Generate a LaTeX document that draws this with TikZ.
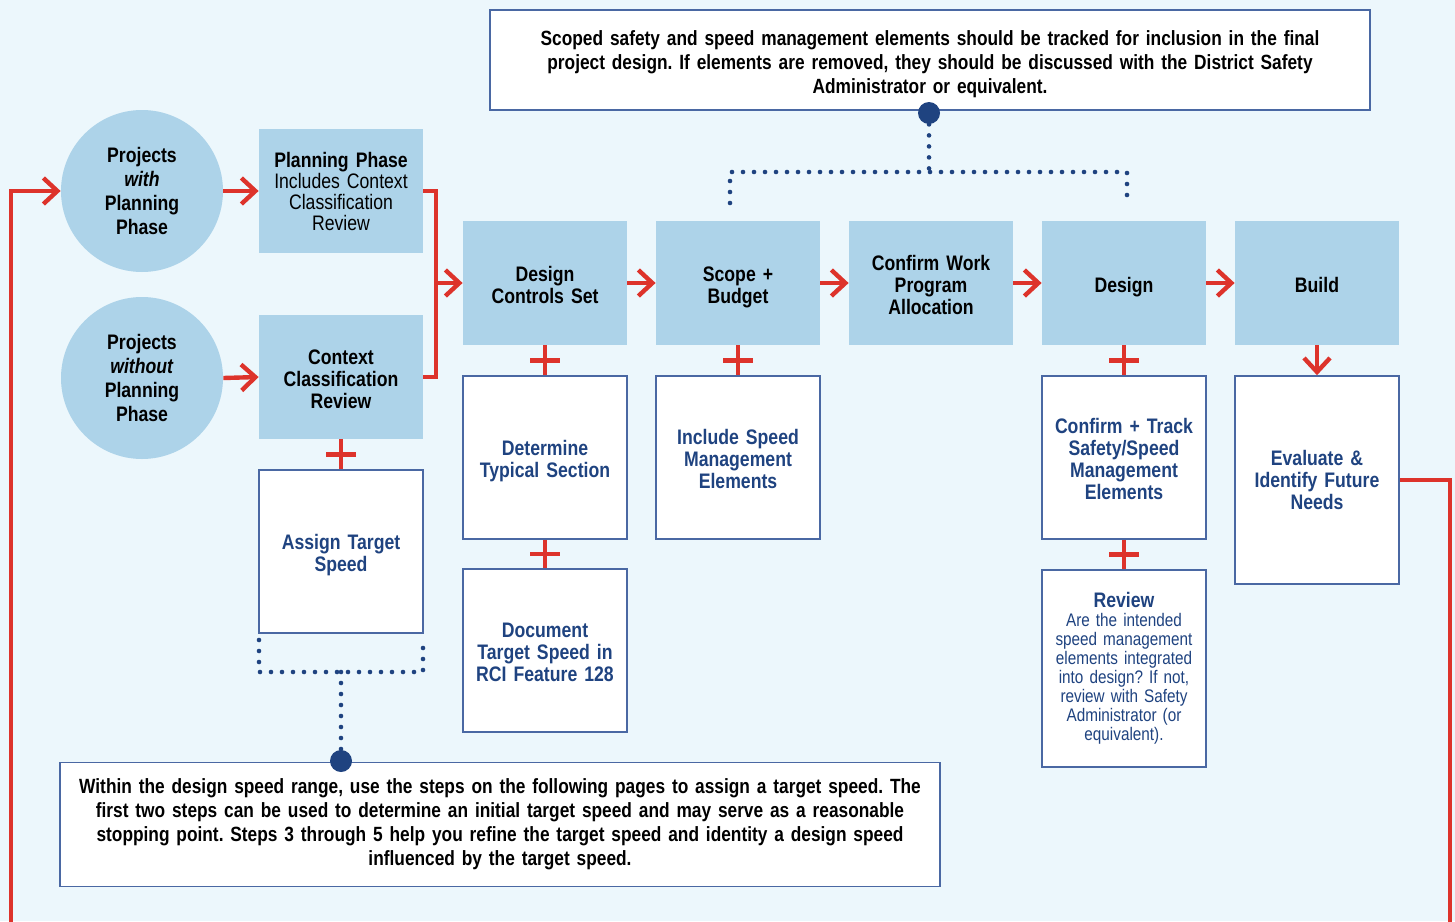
\documentclass[tikz,border=0pt]{standalone}
\usepackage{fontspec}
\setmainfont{Liberation Sans}[FakeStretch=0.84]
\usetikzlibrary{arrows.meta,calc}
\definecolor{bg}{HTML}{ECF7FC}
\definecolor{boxblue}{HTML}{ADD3E9}
\definecolor{redc}{HTML}{DD332B}
\definecolor{darkblue}{HTML}{1F4380}
\definecolor{borderblue}{HTML}{4A68A3}
\begin{document}
\frenchspacing
\begin{tikzpicture}[x=0.5pt,y=-0.5pt,
  vc/.style={execute at begin node={\rule{0pt}{11.5pt}}, execute at end node={\rule[-2.3pt]{0pt}{2.3pt}}},
  proc/.style={fill=boxblue, minimum width=82pt, minimum height=62pt, inner sep=0pt, align=center, text width=80pt, font=\bfseries\fontsize{10.5}{11}\selectfont},
  circ/.style={circle, fill=boxblue, minimum size=81pt, inner sep=0pt, align=center, font=\bfseries\fontsize{10.5}{12}\selectfont},
  wbox/.style={draw=borderblue, line width=0.8pt, fill=white, text=darkblue, inner sep=0pt, minimum width=82pt, text width=80pt, align=center, font=\bfseries\fontsize{10.5}{11}\selectfont},
  nbox/.style={draw=borderblue, line width=0.8pt, fill=white, text=black, inner sep=0pt, minimum width=440pt, text width=436pt, align=center, font=\bfseries\fontsize{10.3}{12}\selectfont},
  redline/.style={draw=redc, line width=2.2pt},
  redarrow/.style={redline, -{Straight Barb[length=7pt,width=13pt]}},
  dotline/.style={draw=darkblue, line width=2.3pt, line cap=round, dash pattern=on 0pt off 5.5pt},
  bigdot/.style={circle, fill=darkblue, minimum size=11pt, inner sep=0pt}
]
\fill[bg] (0,0) rectangle (1455,921);
\useasboundingbox (0,0) rectangle (1455,921);

% circles
\node[circ] (c1) at (142,191) {Projects\\\textit{with}\\Planning\\Phase};
\node[circ] (c2) at (142,378) {Projects\\\textit{without}\\Planning\\Phase};

% left boxes
\node[proc, font=\fontsize{10.5}{10.5}\selectfont] (ppb) at (341,191) {\textbf{Planning Phase}\\Includes Context\\Classification\\Review};
\node[proc, vc] (ccr) at (341,377) {Context\\Classification\\Review};
\node[wbox, vc, minimum height=81.5pt] (ats) at (341,551.5) {Assign Target\\Speed};

% main row
\node[proc, vc] (dcs) at (545,283) {Design\\Controls Set};
\node[proc, vc] (scope) at (738,283) {Scope +\\Budget};
\node[proc, vc] (cwp) at (931,283) {Confirm Work\\Program\\Allocation};
\node[proc, vc] (des) at (1124,283) {Design};
\node[proc, vc] (build) at (1317,283) {Build};

% white boxes
\node[wbox, vc, minimum height=81.5pt] (dts) at (545,457.5) {Determine\\Typical Section};
\node[wbox, vc, minimum height=81.5pt] (doc) at (545,650.5) {Document\\Target Speed in\\RCI Feature 128};
\node[wbox, vc, minimum height=81.5pt] (ism) at (738,457.5) {Include Speed\\Management\\Elements};
\node[wbox, vc, minimum height=81.5pt] (ctr) at (1124,457.5) {Confirm + Track\\Safety/Speed\\Management\\Elements};
\node[wbox, minimum height=98.5pt, font=\fontsize{9.1}{9.5}\selectfont] (rev) at (1124,668.5) {{\bfseries\fontsize{10.5}{11}\selectfont Review}\\Are the intended\\speed management\\elements integrated\\into design? If not,\\review with Safety\\Administrator (or\\equivalent).};
\node[wbox, minimum height=104pt] (evl) at (1317,480) {Evaluate \&\\Identify Future\\Needs};

% note boxes
\node[nbox, vc, minimum height=50pt] (top) at (930,60) {Scoped safety and speed management elements should be tracked for inclusion in the final\\project design. If elements are removed, they should be discussed with the District Safety\\Administrator or equivalent.};
\node[nbox, minimum height=62pt] (bot) at (500,824.5) {Within the design speed range, use the steps on the following pages to assign a target speed. The\\first two steps can be used to determine an initial target speed and may serve as a reasonable\\stopping point. Steps 3 through 5 help you refine the target speed and identity a design speed\\influenced by the target speed.};

% red arrows
\draw[redarrow] (c1.east) -- (ppb.west);
\draw[redarrow] (c2.east) -- (ccr.west);
\coordinate (brk) at (436,283);
\draw[redline] (ppb.east) -| (brk) |- (ccr.east);
\draw[redarrow] (brk) -- (dcs.west);
\draw[redarrow] (dcs.east) -- (scope.west);
\draw[redarrow] (scope.east) -- (cwp.west);
\draw[redarrow] (cwp.east) -- (des.west);
\draw[redarrow] (des.east) -- (build.west);
\draw[redarrow] (build.south) -- (evl.north);

% feedback loop
\coordinate (lr) at (1450,930);
\coordinate (ll) at (11,930);
\draw[redline] (evl.east) -| (lr);
\draw[redarrow] (ll) |- (c1.west);

% plus connectors
\foreach \a/\b in {ccr/ats, dcs/dts, dts/doc, scope/ism, des/ctr, ctr/rev}{
  \draw[redline] (\a.south) -- (\b.north);
  \draw[redline] ($(\a.south)!0.5!(\b.north)$) ++(-7.5pt,0) -- ++(15pt,0);
}

% dotted links
\node[bigdot] (tdot) at (929,113) {};
\coordinate (tj) at (929,172);
\coordinate (tl) at (730,172);
\coordinate (tr) at (1127,172);
\coordinate (tlb) at (730,203);
\coordinate (trb) at (1127,203);
\draw[dotline] (tdot) -- (tj);
\draw[dotline] (tlb) -- (tl) -- (tr) -- (trb);

\node[bigdot] (bdot) at (341,761) {};
\coordinate (bj) at (341,672);
\coordinate (bl) at (259,672);
\coordinate (br) at (423,672);
\coordinate (blt) at (259,640);
\coordinate (brt) at (423,640);
\draw[dotline] (blt) -- (bl) -- (br) -- (brt);
\draw[dotline] (bj) -- (bdot);
\end{tikzpicture}
\end{document}
